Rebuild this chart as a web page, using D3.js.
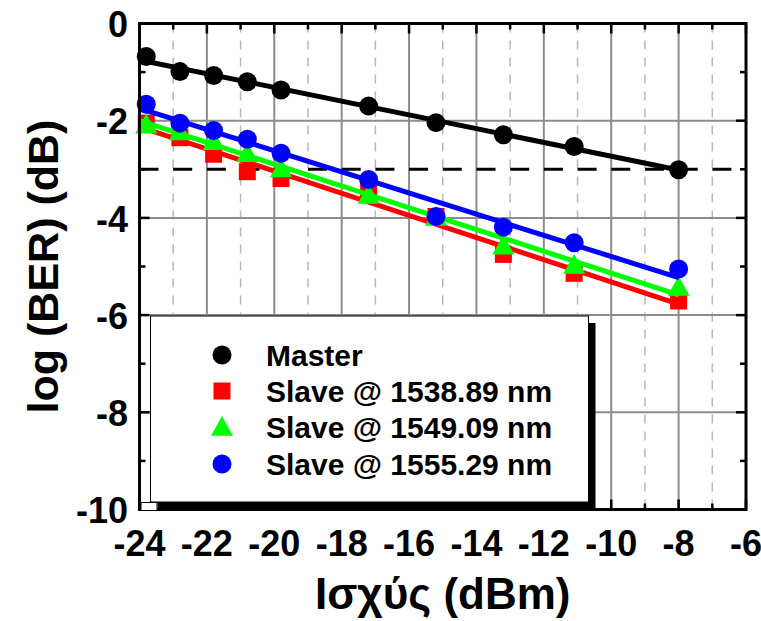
<!DOCTYPE html>
<html>
<head>
<meta charset="utf-8">
<script src="https://cdn.jsdelivr.net/npm/d3@7"></script>
<style>
  html, body { margin: 0; padding: 0; background: #fff; }
  svg { display: block; }
  text { font-family: "Liberation Sans", Arial, sans-serif; font-weight: bold; fill: #000; }
</style>
</head>
<body>
<svg id="chart" width="761" height="621"></svg>
<script>
// ---- data ----
const power = [-23.8, -22.8, -21.8, -20.8, -19.8, -17.2, -15.2, -13.2, -11.1, -8];
const master = [-0.68, -0.99, -1.07, -1.20, -1.37, -1.70, -2.04, -2.29, -2.53, -3.01];
const slave1538 = [-2.05, -2.35, -2.69, -3.05, -3.19, -3.46, -3.97, -4.75, -5.14, -5.71];
const slave1549 = [-2.08, -2.22, -2.42, -2.67, -2.98, -3.53, -3.98, -4.57, -4.97, -5.42];
const slave1555 = [-1.66, -2.05, -2.20, -2.38, -2.67, -3.21, -3.97, -4.19, -4.51, -5.05];
const seriesNames = ["Master", "Slave @ 1538.89 nm", "Slave @ 1549.09 nm", "Slave @ 1555.29 nm"];
const xTicks = [-24, -22, -20, -18, -16, -14, -12, -10, -8, -6];
const yTicks = [0, -2, -4, -6, -8, -10];
const threshold = -3;
const xTitle = "Ισχύς (dBm)";
const yTitle = "log (BER) (dB)";

const series = [
  { name: seriesNames[0], values: master, color: "#000000", symbol: "circle" },
  { name: seriesNames[1], values: slave1538, color: "#ff0000", symbol: "square" },
  { name: seriesNames[2], values: slave1549, color: "#00ff00", symbol: "triangle" },
  { name: seriesNames[3], values: slave1555, color: "#0000ff", symbol: "circle" }
];

// ---- layout ----
const L = 139.5, R = 746, T = 23.5, B = 509.5;
const svg = d3.select("#chart");
const x = d3.scaleLinear().domain([-24, -6]).range([L, R]);
const y = d3.scaleLinear().domain([-10, 0]).range([B, T]);

// grid
const minorX = d3.range(-23, -6, 2);
svg.append("g").selectAll("line").data(minorX).join("line")
  .attr("x1", d => x(d)).attr("x2", d => x(d)).attr("y1", T).attr("y2", B)
  .attr("stroke", "#b8b8b8").attr("stroke-width", 1.5).attr("stroke-dasharray", "9,8");
svg.append("g").selectAll("line").data(xTicks.slice(1, -1)).join("line")
  .attr("x1", d => x(d)).attr("x2", d => x(d)).attr("y1", T).attr("y2", B)
  .attr("stroke", "#8c8c8c").attr("stroke-width", 2);
svg.append("g").selectAll("line").data(yTicks.slice(1, -1)).join("line")
  .attr("x1", L).attr("x2", R).attr("y1", d => y(d)).attr("y2", d => y(d))
  .attr("stroke", "#8c8c8c").attr("stroke-width", 2);

// threshold dashed line
svg.append("line")
  .attr("x1", L).attr("x2", R).attr("y1", y(threshold)).attr("y2", y(threshold))
  .attr("stroke", "#000").attr("stroke-width", 3).attr("stroke-dasharray", "19,14.7");

// axes (ticks inward on all sides)
const allX = d3.range(-24, -5, 1);
const allY = d3.range(-10, 1, 1);
function tickLen(v) { return v % 2 === 0 ? 10 : 6; }
const tg = svg.append("g").attr("stroke", "#000").attr("stroke-width", 2.5);
allX.forEach(v => {
  tg.append("line").attr("x1", x(v)).attr("x2", x(v)).attr("y1", T).attr("y2", T + tickLen(v));
  tg.append("line").attr("x1", x(v)).attr("x2", x(v)).attr("y1", B).attr("y2", B - tickLen(v));
});
allY.forEach(v => {
  tg.append("line").attr("y1", y(v)).attr("y2", y(v)).attr("x1", L).attr("x2", L + tickLen(v));
  tg.append("line").attr("y1", y(v)).attr("y2", y(v)).attr("x1", R).attr("x2", R - tickLen(v));
});

// fit lines + markers
function fit(xs, ys) {
  const mx = d3.mean(xs), my = d3.mean(ys);
  let sxy = 0, sxx = 0;
  xs.forEach((xv, i) => { sxy += (xv - mx) * (ys[i] - my); sxx += (xv - mx) * (xv - mx); });
  const b = sxy / sxx;
  return xv => my + b * (xv - mx);
}
const symR = { circle: 9.5, square: 8.5, triangle: 11 };
function drawSymbol(g, type, cx, cy, color) {
  if (type === "circle") {
    g.append("circle").attr("cx", cx).attr("cy", cy).attr("r", symR.circle).attr("fill", color);
  } else if (type === "square") {
    g.append("rect").attr("x", cx - symR.square).attr("y", cy - symR.square)
      .attr("width", 2 * symR.square).attr("height", 2 * symR.square).attr("fill", color);
  } else {
    const s = symR.triangle;
    g.append("path").attr("d", `M${cx},${cy - s}L${cx + s},${cy + s * 0.8}L${cx - s},${cy + s * 0.8}Z`).attr("fill", color);
  }
}
[0, 1, 2, 3].forEach(i => {
  const s = series[i];
  const f = fit(power, s.values);
  const g = svg.append("g");
  g.append("line")
    .attr("x1", x(-24)).attr("y1", y(f(-24)))
    .attr("x2", x(-8)).attr("y2", y(f(-8)))
    .attr("stroke", s.color).attr("stroke-width", 5);
  s.values.forEach((v, j) => drawSymbol(g, s.symbol, x(power[j]), y(v), s.color));
});

// frame
svg.append("rect").attr("x", L).attr("y", T).attr("width", R - L).attr("height", B - T)
  .attr("fill", "none").attr("stroke", "#000").attr("stroke-width", 3);

// legend
const lg = svg.append("g");
const lx = 150.5, ly = 316, lw = 438, lh = 186, off = 7;
lg.append("rect").attr("x", lx + off).attr("y", ly + off).attr("width", lw).attr("height", lh).attr("fill", "#000");
lg.append("rect").attr("x", lx).attr("y", ly).attr("width", lw).attr("height", lh)
  .attr("fill", "#fff").attr("stroke", "#000").attr("stroke-width", 1);
lg.append("rect").attr("x", L + 1.5).attr("y", ly + lh + 0.5).attr("width", lx + off - L - 2).attr("height", off + 1)
  .attr("fill", "#fff").attr("stroke", "#000").attr("stroke-width", 1);
const rowY = [355, 391, 427, 464];
series.forEach((s, i) => {
  drawSymbol(lg, s.symbol, 222, rowY[i], s.color);
  lg.append("text").attr("x", 266).attr("y", rowY[i]).attr("dy", "0.36em")
    .style("font-size", "30px").text(s.name);
});

// tick labels
svg.append("g").selectAll("text").data(xTicks).join("text")
  .attr("x", d => x(d)).attr("y", 556).attr("text-anchor", "middle")
  .style("font-size", "36px").text(d => d);
svg.append("g").selectAll("text").data(yTicks).join("text")
  .attr("x", 128).attr("y", d => y(d)).attr("dy", "0.38em").attr("text-anchor", "end")
  .style("font-size", "36px").text(d => d);

// titles
svg.append("text").attr("x", (L + R) / 2).attr("y", 609).attr("text-anchor", "middle")
  .style("font-size", "44px").text(xTitle);
svg.append("text").attr("transform", `translate(58, ${(T + B) / 2}) rotate(-90)`)
  .attr("text-anchor", "middle").style("font-size", "43px").text(yTitle);
</script>
</body>
</html>
